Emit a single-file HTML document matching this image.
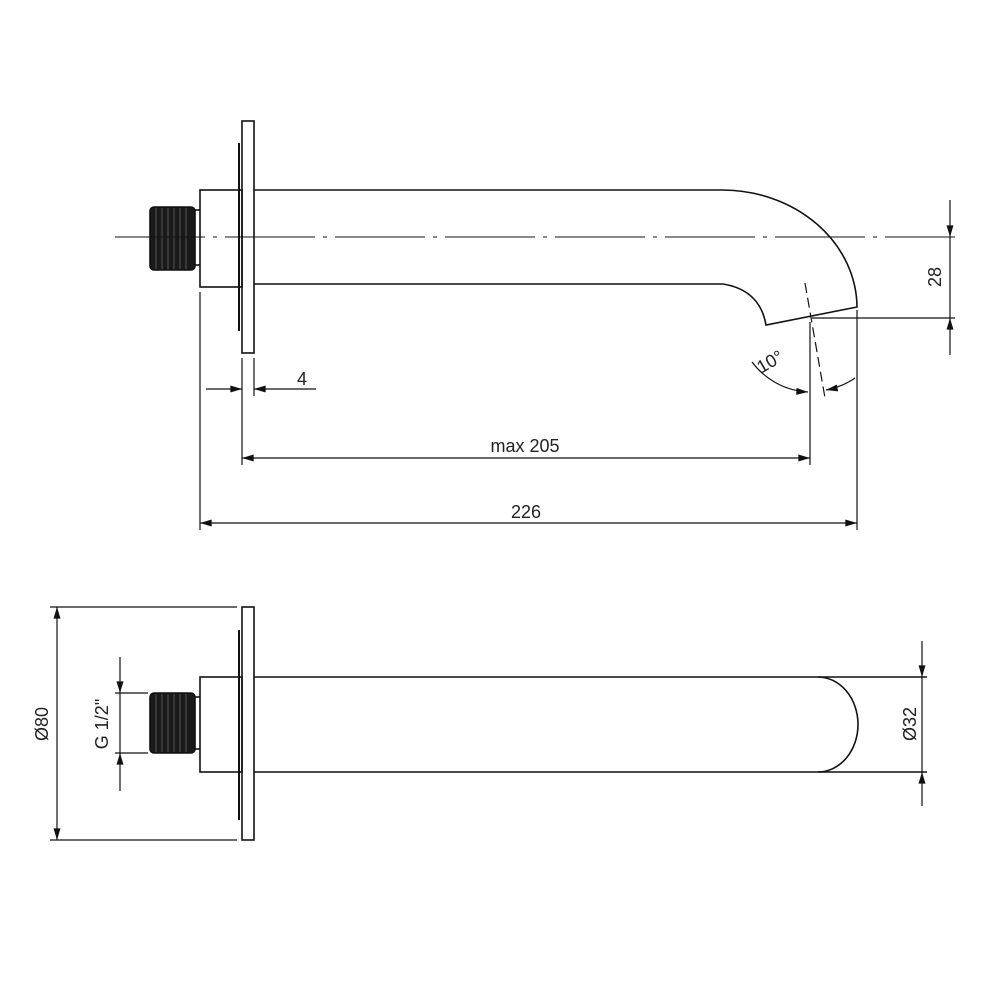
<!DOCTYPE html>
<html><head><meta charset="utf-8"><style>
html,body{margin:0;padding:0;background:#fff;}
svg{display:block;}
text{font-family:"Liberation Sans",sans-serif;font-size:18px;fill:#222;}
</style></head><body>
<svg width="1000" height="1000" viewBox="0 0 1000 1000" xmlns="http://www.w3.org/2000/svg">
<defs>
<marker id="a" viewBox="0 0 10 6" refX="10" refY="3" markerWidth="16" markerHeight="7" markerUnits="userSpaceOnUse" orient="auto-start-reverse"><path d="M0,0 L10,3 L0,6 z" fill="#111"/></marker>
</defs>
<g fill="none" stroke="#111" stroke-width="1.6">
<!-- TOP VIEW -->
<rect x="242" y="121" width="12" height="232" fill="#fff"/>
<line x1="239" y1="143" x2="239" y2="331" stroke-width="2"/>
<rect x="200" y="190" width="42" height="97"/>
<rect x="150" y="207" width="45" height="63" rx="4" fill="#1a1a1a"/>
<g stroke="#666" stroke-width="0.8">
<line x1="156" y1="208" x2="156" y2="269"/><line x1="162" y1="208" x2="162" y2="269"/><line x1="168" y1="208" x2="168" y2="269"/><line x1="174" y1="208" x2="174" y2="269"/><line x1="180" y1="208" x2="180" y2="269"/><line x1="186" y1="208" x2="186" y2="269"/></g>
<line x1="195" y1="210" x2="200" y2="210"/><line x1="195" y1="265" x2="200" y2="265"/>
<path d="M254,190 L722,190 A135,118 0 0 1 857,307 L766,325 Q760,290 723,284 L254,284"/>
<line x1="115" y1="237" x2="955" y2="237" stroke-width="1.1" stroke-dasharray="90,8,4,8"/>
<!-- 28 dim -->
<line x1="812" y1="318" x2="955" y2="318" stroke-width="1.2"/>
<line x1="950" y1="200" x2="950" y2="237" stroke-width="1.2" marker-end="url(#a)"/>
<line x1="950" y1="355" x2="950" y2="318" stroke-width="1.2" marker-end="url(#a)"/>
<line x1="950" y1="237" x2="950" y2="318" stroke-width="1.2"/>
<!-- angle -->
<line x1="810" y1="322" x2="810" y2="465" stroke-width="1.2"/>
<line x1="857" y1="310" x2="857" y2="530" stroke-width="1.2"/>
<line x1="805" y1="283" x2="825" y2="398" stroke-width="1.2" stroke-dasharray="10,5"/>
<path d="M752,362 A75,75 0 0 0 808,392" stroke-width="1.2" marker-end="url(#a)"/>
<path d="M855,378 A75,75 0 0 1 826,390" stroke-width="1.2" marker-end="url(#a)"/>
<!-- 4 dim -->
<line x1="242" y1="358" x2="242" y2="465" stroke-width="1.2"/>
<line x1="254" y1="358" x2="254" y2="396" stroke-width="1.2"/>
<line x1="206" y1="389" x2="242" y2="389" stroke-width="1.2" marker-end="url(#a)"/>
<line x1="316" y1="389" x2="254" y2="389" stroke-width="1.2" marker-end="url(#a)"/>
<!-- max 205 -->
<line x1="242" y1="458" x2="810" y2="458" stroke-width="1.2" marker-start="url(#a)" marker-end="url(#a)"/>
<!-- 226 -->
<line x1="200" y1="292" x2="200" y2="530" stroke-width="1.2"/>
<line x1="200" y1="523" x2="857" y2="523" stroke-width="1.2" marker-start="url(#a)" marker-end="url(#a)"/>

<!-- BOTTOM VIEW -->
<rect x="242" y="607" width="12" height="233" fill="#fff"/>
<line x1="239" y1="630" x2="239" y2="820" stroke-width="2"/>
<rect x="200" y="677" width="42" height="95"/>
<rect x="150" y="693" width="45" height="60" rx="4" fill="#1a1a1a"/>
<g stroke="#666" stroke-width="0.8">
<line x1="156" y1="694" x2="156" y2="752"/><line x1="162" y1="694" x2="162" y2="752"/><line x1="168" y1="694" x2="168" y2="752"/><line x1="174" y1="694" x2="174" y2="752"/><line x1="180" y1="694" x2="180" y2="752"/><line x1="186" y1="694" x2="186" y2="752"/></g>
<line x1="195" y1="697" x2="200" y2="697"/><line x1="195" y1="749" x2="200" y2="749"/>
<line x1="254" y1="677" x2="927" y2="677"/>
<line x1="254" y1="772" x2="927" y2="772"/>
<path d="M818,677 A40,47.5 0 0 1 818,772"/>
<!-- Ø32 -->
<line x1="922" y1="641" x2="922" y2="677" stroke-width="1.2" marker-end="url(#a)"/>
<line x1="922" y1="806" x2="922" y2="772" stroke-width="1.2" marker-end="url(#a)"/>
<line x1="922" y1="677" x2="922" y2="772" stroke-width="1.2"/>
<!-- Ø80 -->
<line x1="50" y1="607" x2="237" y2="607" stroke-width="1.2"/>
<line x1="50" y1="840" x2="237" y2="840" stroke-width="1.2"/>
<line x1="57" y1="607" x2="57" y2="840" stroke-width="1.2" marker-start="url(#a)" marker-end="url(#a)"/>
<!-- G1/2 -->
<line x1="115" y1="693" x2="148" y2="693" stroke-width="1.2"/>
<line x1="115" y1="753" x2="148" y2="753" stroke-width="1.2"/>
<line x1="120" y1="657" x2="120" y2="693" stroke-width="1.2" marker-end="url(#a)"/>
<line x1="120" y1="791" x2="120" y2="753" stroke-width="1.2" marker-end="url(#a)"/>
<line x1="120" y1="693" x2="120" y2="753" stroke-width="1.2"/>
</g>
<text x="302" y="385" text-anchor="middle">4</text>
<text x="525" y="452" text-anchor="middle">max 205</text>
<text x="526" y="518" text-anchor="middle">226</text>
<text transform="translate(941,277) rotate(-90)" text-anchor="middle">28</text>
<text transform="translate(773,367) rotate(-30)" text-anchor="middle">10°</text>
<text transform="translate(916,724) rotate(-90)" text-anchor="middle">Ø32</text>
<text transform="translate(48,724) rotate(-90)" text-anchor="middle">Ø80</text>
<text transform="translate(108,724) rotate(-90)" text-anchor="middle">G 1/2"</text>
</svg>
</body></html>
